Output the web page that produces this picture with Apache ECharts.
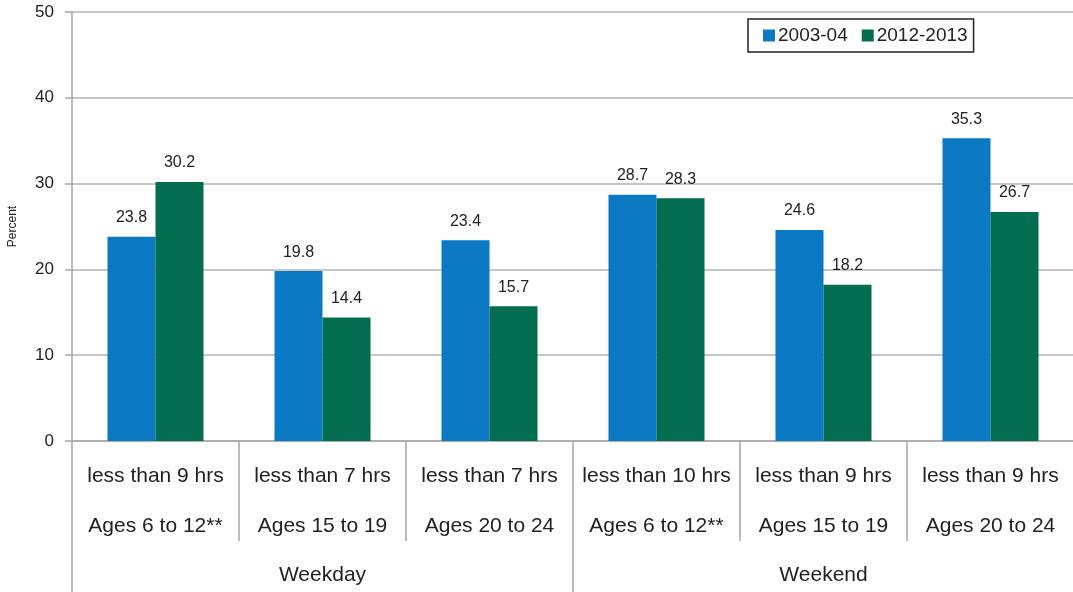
<!DOCTYPE html>
<html>
<head>
<meta charset="utf-8">
<script src="https://cdn.jsdelivr.net/npm/echarts@6/dist/echarts.min.js"></script>
<style>
  html, body { margin: 0; padding: 0; background: #fff; }
  #chart { width: 1073px; height: 592px; }
</style>
</head>
<body>
<div id="chart"></div>
<script>
// categories (sleep threshold + age group) and the weekday/weekend groups
const categories = [
  'less than 9 hrs\nAges 6 to 12**',
  'less than 7 hrs\nAges 15 to 19',
  'less than 7 hrs\nAges 20 to 24',
  'less than 10 hrs\nAges 6 to 12**',
  'less than 9 hrs\nAges 15 to 19',
  'less than 9 hrs\nAges 20 to 24'
];
const groups = ['Weekday', 'Weekend'];

// percent values per survey period
const data2003 = [23.8, 19.8, 23.4, 28.7, 24.6, 35.3];
const data2012 = [30.2, 14.4, 15.7, 28.3, 18.2, 26.7];

const font = 'Liberation Sans, Arial, sans-serif';
const axisGrey = '#a6a6a6';

const chart = echarts.init(document.getElementById('chart'));

chart.setOption({
  animation: false,
  textStyle: { fontFamily: font },
  grid: { left: 72, right: -1, top: 12, bottom: 151, containLabel: false, outerBoundsMode: 'none' },
  legend: {
    data: ['2003-04', '2012-2013'],
    left: 748,
    top: 19,
    padding: [7, 6, 7, 15],
    itemWidth: 12,
    itemHeight: 12,
    itemGap: 14,
    borderColor: '#222',
    borderWidth: 1.5,
    icon: 'rect',
    textStyle: { fontSize: 19, color: '#222', padding: [0, 0, 0, -2] }
  },
  xAxis: [
    {
      type: 'category',
      data: categories,
      position: 'bottom',
      axisLine: { show: true, lineStyle: { color: axisGrey, width: 1.5 } },
      axisTick: { show: true, interval: 0, length: 100, lineStyle: { color: axisGrey, width: 1.5 } },
      axisLabel: {
        interval: 0,
        margin: 10,
        fontSize: 21,
        lineHeight: 50,
        color: '#222'
      }
    },
    {
      type: 'category',
      data: groups,
      position: 'bottom',
      axisLine: { show: false },
      axisTick: { show: true, interval: 0, length: 160, lineStyle: { color: axisGrey, width: 1.5 } },
      axisLabel: { interval: 0, margin: 124, fontSize: 21, color: '#222' }
    }
  ],
  yAxis: {
    type: 'value',
    min: 0,
    max: 50,
    interval: 10,
    name: 'Percent',
    nameLocation: 'middle',
    nameGap: 53,
    nameTextStyle: { fontSize: 12, color: '#222' },
    axisLine: { show: true, lineStyle: { color: axisGrey, width: 1.5 } },
    axisTick: { show: true, length: 7, lineStyle: { color: axisGrey, width: 1.5 } },
    axisLabel: { fontSize: 17, color: '#222', margin: 18 },
    splitLine: { lineStyle: { color: '#b3b3b3', width: 1.5 } }
  },
  series: [
    {
      name: '2003-04',
      type: 'bar',
      data: data2003,
      barWidth: 48,
      barGap: '0%',
      itemStyle: { color: '#0a78c2' },
      label: { show: true, position: 'top', distance: 11, fontSize: 16, color: '#222' }
    },
    {
      name: '2012-2013',
      type: 'bar',
      data: data2012,
      barWidth: 48,
      barGap: '0%',
      itemStyle: { color: '#036d4f' },
      label: { show: true, position: 'top', distance: 11, fontSize: 16, color: '#222' }
    }
  ]
});
</script>
</body>
</html>
